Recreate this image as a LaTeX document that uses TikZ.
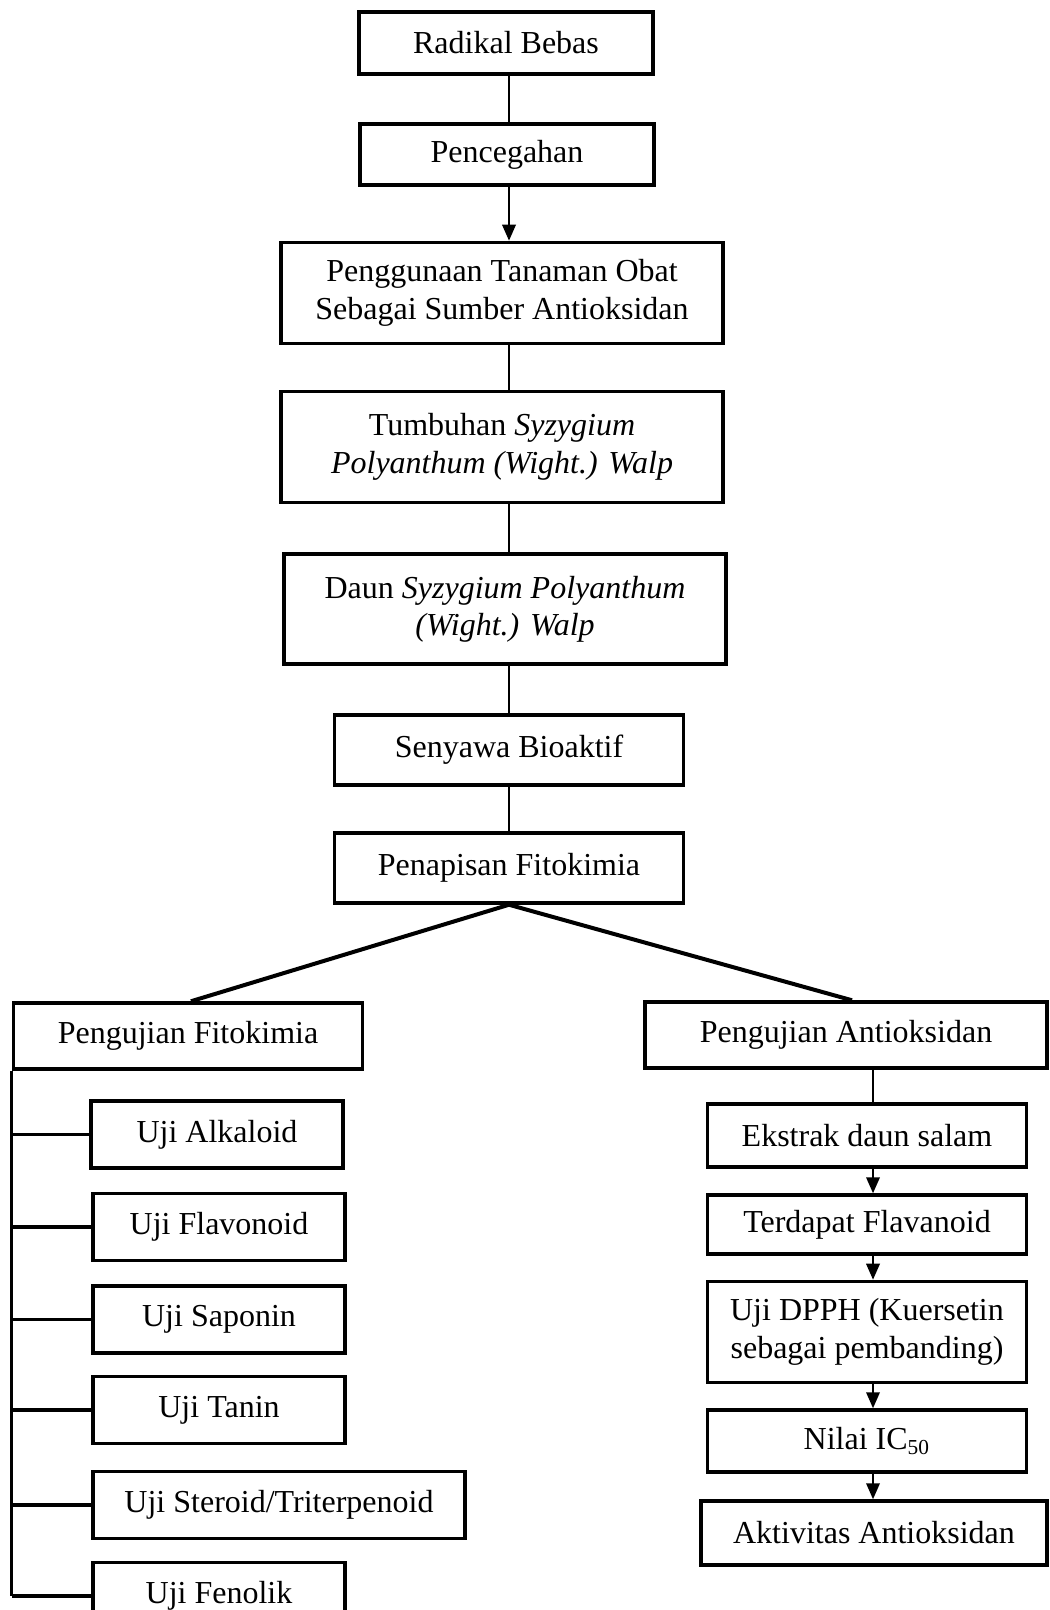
\documentclass[tikz,border=0pt]{standalone}
\usepackage{fontspec}
\setmainfont{Liberation Serif}
\usetikzlibrary{arrows.meta}
\tikzset{
  kotak/.style={draw,line width=1.3pt,align=center,inner sep=0pt,
    font=\fontsize{12}{14}\selectfont},
  garis/.style={line width=0.9pt},
  panah/.style={line width=0.9pt,-{Triangle[length=6pt,width=5pt]}},
  cabang/.style={line width=1.3pt},
  miring/.style={line width=1.5pt},
}
\begin{document}
\begin{tikzpicture}[x=0.375pt,y=-0.375pt]
    %% NOTE:
    %% picture size in pixels of the reference
    \useasboundingbox (0,0) rectangle (1049,1610);
    %% main column
    \node[kotak,minimum width=110.25pt,minimum height=23.25pt] (radikal) at (506,43) {Radikal Bebas};
    \node[kotak,minimum width=110.25pt,minimum height=22.9pt] (cegah) at (507,154.5) {Pencegahan};
    \node[kotak,minimum width=165.75pt,minimum height=37.9pt] (guna) at (502,293) {Penggunaan Tanaman Obat\\Sebagai Sumber Antioksidan};
    \node[kotak,minimum width=165.75pt,minimum height=41.6pt] (tumbuh) at (502,447) {Tumbuhan \textit{Syzygium}\\\textit{Polyanthum (Wight.) Walp}};
    \node[kotak,minimum width=165.75pt,minimum height=41.25pt] (daun) at (505,609) {Daun \textit{Syzygium Polyanthum}\\\textit{(Wight.) Walp}};
    \node[kotak,minimum width=130.9pt,minimum height=26.25pt] (senyawa) at (509,750) {Senyawa Bioaktif};
    \node[kotak,minimum width=130.9pt,minimum height=26.25pt] (penapisan) at (509,868) {Penapisan Fitokimia};
    %% two branches
    \node[kotak,minimum width=130.9pt,minimum height=24.75pt] (pf) at (188,1036) {Pengujian Fitokimia};
    \node[kotak,minimum width=150.75pt,minimum height=24.75pt] (pa) at (846,1035) {Pengujian Antioksidan};
    %% phytochemical tests
    \node[kotak,minimum width=94.5pt,minimum height=25.1pt] (alkaloid) at (217,1134.5) {Uji Alkaloid};
    \node[kotak,minimum width=94.5pt,minimum height=25.1pt] (flavonoid) at (219,1227) {Uji Flavonoid};
    \node[kotak,minimum width=94.5pt,minimum height=25.1pt] (saponin) at (219,1319.5) {Uji Saponin};
    \node[kotak,minimum width=94.5pt,minimum height=25.1pt] (tanin) at (219,1410) {Uji Tanin};
    \node[kotak,minimum width=139.5pt,minimum height=25.1pt] (steroid) at (279,1505) {Uji Steroid/Triterpenoid};
    \node[kotak,minimum width=94.5pt,minimum height=25.1pt] (fenolik) at (219,1596) {Uji Fenolik};
    %% antioxidant tests
    \node[kotak,minimum width=119.6pt,minimum height=23.6pt] (ekstrak) at (867,1135.5) {Ekstrak daun salam};
    \node[kotak,minimum width=119.6pt,minimum height=22.1pt] (terdapat) at (867,1224.5) {Terdapat Flavanoid};
    \node[kotak,minimum width=119.6pt,minimum height=37.9pt] (dpph) at (867,1332) {Uji DPPH (Kuersetin\\sebagai pembanding)};
    \node[kotak,minimum width=119.6pt,minimum height=23.25pt] (nilai) at (867,1441) {Nilai IC\textsubscript{50}};
    \node[kotak,minimum width=129.75pt,minimum height=24pt] (aktivitas) at (874,1533) {Aktivitas Antioksidan};
    %% connectors
    \coordinate (poros) at (509,0);
    \draw[garis] (radikal.south -| poros) -- (cegah.north -| poros);
    \draw[panah] (cegah.south -| poros) -- (guna.north -| poros);
    \draw[garis] (guna.south -| poros) -- (tumbuh.north -| poros);
    \draw[garis] (tumbuh.south -| poros) -- (daun.north -| poros);
    \draw[garis] (daun.south -| poros) -- (senyawa.north -| poros);
    \draw[garis] (senyawa) -- (penapisan);
    \draw[miring] (penapisan.south) -- ([xshift=1.1pt]pf.north);
    \draw[miring] (penapisan.south) -- ([xshift=2.25pt]pa.north);
    %% left trunk
    \draw[cabang] (pf.south west) -- (pf.south west |- fenolik.west);
    \foreach \u in {alkaloid,flavonoid,saponin,tanin,steroid,fenolik}
        \draw[cabang] (pf.south west |- \u.west) -- (\u.west);
    %% right column
    \coordinate (jalur) at (873,1068);
    \draw[garis] (pa.south -| jalur) -- (ekstrak.north -| jalur);
    \draw[panah] (ekstrak.south -| jalur) -- (terdapat.north -| jalur);
    \draw[panah] (terdapat.south -| jalur) -- (dpph.north -| jalur);
    \draw[panah] (dpph.south -| jalur) -- (nilai.north -| jalur);
    \draw[panah] (nilai.south -| jalur) -- (aktivitas.north -| jalur);
\end{tikzpicture}
\end{document}
